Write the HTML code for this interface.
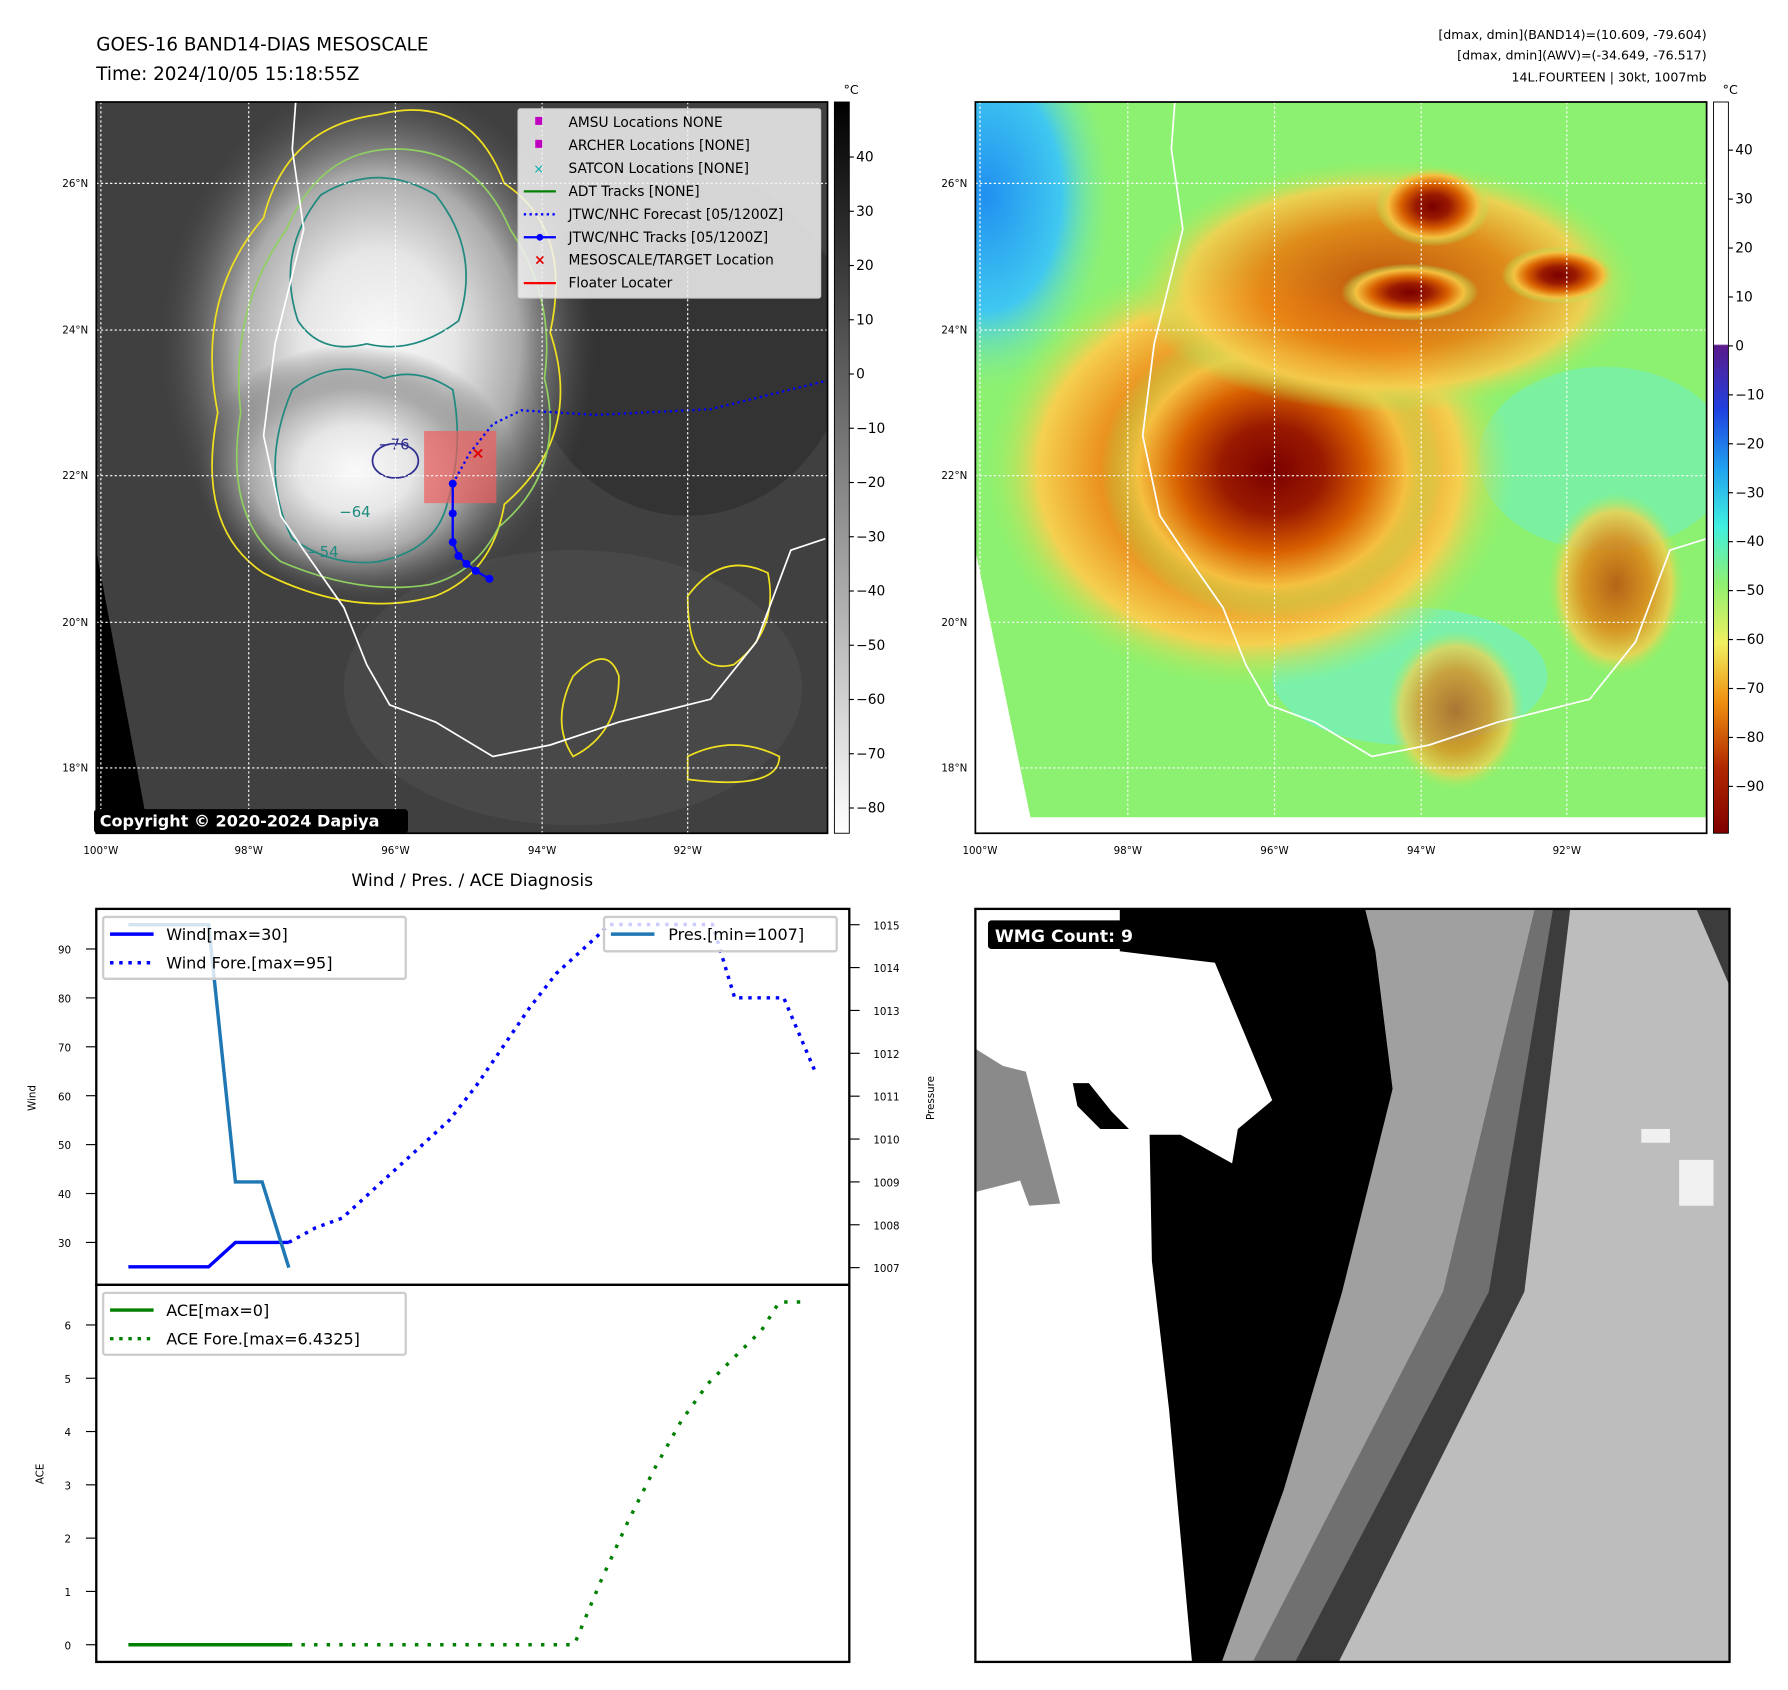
<!DOCTYPE html>
<html><head><meta charset="utf-8"><style>
html,body{margin:0;padding:0;background:#fff}
svg{display:block;font-family:"DejaVu Sans","Liberation Sans",sans-serif}
</style></head><body>
<svg id="fig" width="1788" height="1690" viewBox="0 0 1560 1474.5" xmlns="http://www.w3.org/2000/svg">
<defs>
<radialGradient id="cloudL" cx="0.5" cy="0.5" r="0.5">
<stop offset="0" stop-color="#fafafa"/><stop offset="0.35" stop-color="#e6e6e6"/><stop offset="0.65" stop-color="#aaaaaa"/><stop offset="1" stop-color="#555" stop-opacity="0"/></radialGradient>
<radialGradient id="cloudR" cx="0.5" cy="0.5" r="0.5">
<stop offset="0" stop-color="#7a0000"/><stop offset="0.3" stop-color="#9a1a00"/><stop offset="0.55" stop-color="#d86000"/><stop offset="0.78" stop-color="#f5c040"/><stop offset="1" stop-color="#a0f060" stop-opacity="0"/></radialGradient>
<radialGradient id="cloudO" cx="0.5" cy="0.5" r="0.5">
<stop offset="0" stop-color="#c04000"/><stop offset="0.5" stop-color="#e88010"/><stop offset="0.8" stop-color="#f5d050"/><stop offset="1" stop-color="#a0f060" stop-opacity="0"/></radialGradient>
<radialGradient id="blueR" cx="0.5" cy="0.5" r="0.5">
<stop offset="0" stop-color="#2090f0"/><stop offset="0.6" stop-color="#40c8f0"/><stop offset="1" stop-color="#80f0a0" stop-opacity="0"/></radialGradient>
<linearGradient id="cbGray" x1="0" y1="0" x2="0" y2="1"><stop offset="0" stop-color="#000"/><stop offset="1" stop-color="#fff"/></linearGradient>
<linearGradient id="cbJet" x1="0" y1="0" x2="0" y2="1">
<stop offset="0" stop-color="#fff"/><stop offset="0.331" stop-color="#fff"/><stop offset="0.333" stop-color="#5a1a8a"/><stop offset="0.42" stop-color="#2040e0"/><stop offset="0.5" stop-color="#20a0f0"/><stop offset="0.58" stop-color="#40f0e0"/><stop offset="0.66" stop-color="#90f070"/><stop offset="0.74" stop-color="#f0f060"/><stop offset="0.82" stop-color="#f09010"/><stop offset="0.91" stop-color="#b02800"/><stop offset="1" stop-color="#800000"/></linearGradient>
<clipPath id="clipL"><rect x="84" y="89" width="638" height="638"/></clipPath>
<clipPath id="clipR"><rect x="851" y="89" width="638" height="638"/></clipPath>
</defs>

<text x="84" y="44" font-size="16">GOES-16 BAND14-DIAS MESOSCALE</text>
<text x="84" y="70" font-size="16">Time: 2024/10/05 15:18:55Z</text>
<g font-size="11" text-anchor="end">
<text x="1489" y="34">[dmax, dmin](BAND14)=(10.609, -79.604)</text>
<text x="1489" y="52">[dmax, dmin](AWV)=(-34.649, -76.517)</text>
<text x="1489" y="71">14L.FOURTEEN | 30kt, 1007mb</text>
</g>

<!-- LEFT MAP -->
<g clip-path="url(#clipL)">
<rect x="84" y="89" width="638" height="638" fill="#404040"/>
<ellipse cx="500" cy="600" rx="200" ry="120" fill="#555" opacity="0.4"/>
<ellipse cx="600" cy="300" rx="140" ry="150" fill="#2c2c2c" opacity="0.6"/>
<ellipse cx="330" cy="300" rx="190" ry="230" fill="url(#cloudL)"/>
<ellipse cx="310" cy="410" rx="140" ry="110" fill="url(#cloudL)"/>
<polygon points="84,480 130,727 84,727" fill="#000"/>
<g fill="none" stroke-width="1.5">
<path d="M230,500 q-60,-40 -40,-140 q-20,-100 40,-170 q20,-80 100,-90 q80,-20 110,60 q60,40 40,130 q30,90 -40,150 q-10,60 -60,80 q-70,20 -150,-20z" stroke="#f0e020"/>
<path d="M245,490 q-50,-40 -35,-130 q-10,-90 40,-160 q30,-70 95,-70 q70,0 100,70 q40,60 30,130 q20,80 -40,130 q-20,40 -60,50 q-60,10 -130,-20z" stroke="#90d060"/>
<path d="M255,470 q-30,-60 0,-130 q40,-30 80,-10 q30,-10 60,10 q10,50 -5,100 q-10,40 -60,50 q-40,5 -75,-20z" stroke="#208a80"/>
<path d="M260,280 q-20,-60 20,-110 q50,-30 100,0 q40,50 20,110 q-40,30 -80,20 q-40,10 -60,-20z" stroke="#208a80"/>
<ellipse cx="345" cy="402" rx="20" ry="15" stroke="#303090"/>
<path d="M600,520 q30,-40 70,-20 q10,50 -30,80 q-40,10 -40,-60z" stroke="#f0e020"/>
<path d="M500,590 q30,-30 40,0 q0,50 -40,70 q-20,-30 0,-70z" stroke="#f0e020"/>
<path d="M600,660 q40,-20 80,0 q0,30 -80,20z" stroke="#f0e020"/>
</g>
<text x="330" y="392" font-size="13" fill="#303090">−76</text>
<text x="296" y="451" font-size="13" fill="#208a80">−64</text>
<text x="268" y="486" font-size="13" fill="#208a80">−54</text>
<path d="M258,89 L255,130 265,200 240,300 230,380 245,450 265,480 300,530 320,580 340,615 380,630 430,660 480,650 540,630 580,620 620,610 660,560 690,480 720,470" fill="none" stroke="#fff" stroke-width="1.5"/>
<rect x="370" y="376" width="63" height="63" fill="#f06060" opacity="0.7"/>
<path d="M395,422 L410,395 430,370 455,358 520,362 620,357 722,332" fill="none" stroke="#0000ff" stroke-width="2" stroke-dasharray="2,3"/>
<polyline points="427,505 415,498 407,492 400,485 395,473 395,448 395,422" fill="none" stroke="#0000ff" stroke-width="2"/>
<g fill="#0000ff"><circle cx="427" cy="505" r="3.5"/><circle cx="415" cy="498" r="3.5"/><circle cx="407" cy="492" r="3.5"/><circle cx="400" cy="485" r="3.5"/><circle cx="395" cy="473" r="3.5"/><circle cx="395" cy="448" r="3.5"/><circle cx="395" cy="422" r="3.5"/></g>
<text x="417" y="400" font-size="14" fill="#e00000" text-anchor="middle" font-weight="bold">×</text>
<g stroke="#fff" stroke-dasharray="2,2" stroke-width="1">
<line x1="88" y1="89" x2="88" y2="727"/><line x1="217" y1="89" x2="217" y2="727"/><line x1="345" y1="89" x2="345" y2="727"/><line x1="473" y1="89" x2="473" y2="727"/><line x1="600" y1="89" x2="600" y2="727"/>
<line x1="84" y1="160" x2="722" y2="160"/><line x1="84" y1="288" x2="722" y2="288"/><line x1="84" y1="415" x2="722" y2="415"/><line x1="84" y1="543" x2="722" y2="543"/><line x1="84" y1="670" x2="722" y2="670"/>
</g>
</g>
<rect x="84" y="89" width="638" height="638" fill="none" stroke="#000" stroke-width="1.5"/>
<g font-size="12">
<rect x="452" y="95" width="264" height="165" fill="#f2f2f2" fill-opacity="0.85" stroke="#ccc" rx="2"/>
<rect x="467" y="102" width="6" height="7" fill="#c000c0"/><text x="496" y="111">AMSU Locations NONE</text>
<rect x="467" y="122" width="6" height="7" fill="#c000c0"/><text x="496" y="131">ARCHER Locations [NONE]</text>
<text x="470" y="151" fill="#00b0b0" text-anchor="middle" font-size="11">×</text><text x="496" y="151">SATCON Locations [NONE]</text>
<line x1="457" y1="167" x2="485" y2="167" stroke="#008000" stroke-width="2"/><text x="496" y="171">ADT Tracks [NONE]</text>
<line x1="457" y1="187" x2="485" y2="187" stroke="#0000ff" stroke-width="2" stroke-dasharray="2,3"/><text x="496" y="191">JTWC/NHC Forecast [05/1200Z]</text>
<line x1="457" y1="207" x2="485" y2="207" stroke="#0000ff" stroke-width="2"/><circle cx="471" cy="207" r="3" fill="#0000ff"/><text x="496" y="211">JTWC/NHC Tracks [05/1200Z]</text>
<text x="471" y="231" fill="#e00000" text-anchor="middle" font-weight="bold">×</text><text x="496" y="231">MESOSCALE/TARGET Location</text>
<line x1="457" y1="247" x2="485" y2="247" stroke="#ff0000" stroke-width="2"/><text x="496" y="251">Floater Locater</text>
</g>
<g>
<rect x="82" y="706" width="274" height="21" rx="3" fill="#000"/>
<text x="87" y="721" fill="#fff" font-size="14" font-weight="bold">Copyright © 2020-2024 Dapiya</text>
</g>
<g font-size="9" fill="#000">
<text x="77" y="163" text-anchor="end">26°N</text><text x="77" y="291" text-anchor="end">24°N</text><text x="77" y="418" text-anchor="end">22°N</text><text x="77" y="546" text-anchor="end">20°N</text><text x="77" y="673" text-anchor="end">18°N</text>
<text x="88" y="745" text-anchor="middle">100°W</text><text x="217" y="745" text-anchor="middle">98°W</text><text x="345" y="745" text-anchor="middle">96°W</text><text x="473" y="745" text-anchor="middle">94°W</text><text x="600" y="745" text-anchor="middle">92°W</text>
</g>
<g font-size="12">
<rect x="728" y="89" width="13" height="638" fill="url(#cbGray)" stroke="#000" stroke-width="0.8"/>
<text x="736" y="82" font-size="11">°C</text>
<g id="cbLticks"></g>
</g>

<!-- RIGHT MAP -->
<g clip-path="url(#clipR)">
<rect x="851" y="89" width="638" height="638" fill="#8cf070"/>
<ellipse cx="860" cy="170" rx="110" ry="170" fill="url(#blueR)"/>
<ellipse cx="1400" cy="400" rx="110" ry="80" fill="#70f0c0" opacity="0.6"/>
<ellipse cx="1230" cy="590" rx="120" ry="60" fill="#70f0d0" opacity="0.6"/>
<ellipse cx="1090" cy="410" rx="230" ry="190" fill="url(#cloudO)"/>
<ellipse cx="1110" cy="410" rx="150" ry="130" fill="url(#cloudR)"/>
<ellipse cx="1210" cy="250" rx="220" ry="110" fill="url(#cloudO)" opacity="0.9"/>
<ellipse cx="1250" cy="180" rx="50" ry="35" fill="url(#cloudR)"/>
<ellipse cx="1230" cy="255" rx="60" ry="25" fill="url(#cloudR)"/>
<ellipse cx="1360" cy="240" rx="50" ry="25" fill="url(#cloudR)"/>
<ellipse cx="1410" cy="510" rx="60" ry="80" fill="url(#cloudO)" opacity="0.8"/>
<ellipse cx="1270" cy="620" rx="60" ry="70" fill="url(#cloudO)" opacity="0.7"/>
<polygon points="851,480 899,713 1489,713 1489,727 851,727" fill="#fff"/>
<path d="M1025,89 L1022,130 1032,200 1007,300 997,380 1012,450 1032,480 1067,530 1087,580 1107,615 1147,630 1197,660 1247,650 1307,630 1347,620 1387,610 1427,560 1457,480 1489,470" fill="none" stroke="#fff" stroke-width="1.5"/>
<g stroke="#fff" stroke-dasharray="2,2" stroke-width="1">
<line x1="855" y1="89" x2="855" y2="727"/><line x1="984" y1="89" x2="984" y2="727"/><line x1="1112" y1="89" x2="1112" y2="727"/><line x1="1240" y1="89" x2="1240" y2="727"/><line x1="1367" y1="89" x2="1367" y2="727"/>
<line x1="851" y1="160" x2="1489" y2="160"/><line x1="851" y1="288" x2="1489" y2="288"/><line x1="851" y1="415" x2="1489" y2="415"/><line x1="851" y1="543" x2="1489" y2="543"/><line x1="851" y1="670" x2="1489" y2="670"/>
</g>
</g>
<rect x="851" y="89" width="638" height="638" fill="none" stroke="#000" stroke-width="1.5"/>
<g font-size="9">
<text x="844" y="163" text-anchor="end">26°N</text><text x="844" y="291" text-anchor="end">24°N</text><text x="844" y="418" text-anchor="end">22°N</text><text x="844" y="546" text-anchor="end">20°N</text><text x="844" y="673" text-anchor="end">18°N</text>
<text x="855" y="745" text-anchor="middle">100°W</text><text x="984" y="745" text-anchor="middle">98°W</text><text x="1112" y="745" text-anchor="middle">96°W</text><text x="1240" y="745" text-anchor="middle">94°W</text><text x="1367" y="745" text-anchor="middle">92°W</text>
</g>
<g font-size="12">
<rect x="1495" y="89" width="13" height="638" fill="url(#cbJet)" stroke="#000" stroke-width="0.8"/>
<text x="1503" y="82" font-size="11">°C</text>
<g id="cbRticks"></g>
</g>

<!-- CHARTS -->
<text x="412" y="773" font-size="15" text-anchor="middle">Wind / Pres. / ACE Diagnosis</text>
<g id="windChart"></g>
<g id="aceChart"></g>

<!-- WMG -->
<g>
<rect x="851" y="793" width="658" height="657" fill="#bdbdbd"/>
<polygon points="1370,793 1330,1127 1168,1450 851,1450 851,793" fill="#3c3c3c"/>
<polygon points="1355,793 1299,1127 1130,1450 851,1450 851,793" fill="#707070"/>
<polygon points="1339,793 1259,1127 1093,1450 851,1450 851,793" fill="#a0a0a0"/>
<polygon points="1191,793 1200,830 1215,950 1171,1127 1120,1300 1066,1450 851,1450 851,793" fill="#000"/>
<polygon points="851,793 977,793 977,830 1060,840 1085,900 1110,960 1080,985 1075,1015 1030,990 1003,990 1005,1100 1020,1230 1030,1340 1040,1450 851,1450" fill="#fff"/>
<polygon points="851,915 875,930 895,935 925,1050 898,1052 890,1030 851,1040" fill="#8a8a8a"/>
<polygon points="936,945 950,945 970,970 985,985 960,985 940,965" fill="#000"/>
<polygon points="1480,793 1509,793 1509,860" fill="#3c3c3c"/>
<rect x="1432" y="985" width="25" height="12" fill="#f0f0f0"/>
<rect x="1465" y="1012" width="30" height="40" fill="#f0f0f0"/>
<rect x="862" y="803" width="158" height="25" rx="3" fill="#000"/>
<text x="868" y="822" fill="#fff" font-size="15" font-weight="bold">WMG Count: 9</text>
<rect x="851" y="793" width="658" height="657" fill="none" stroke="#000" stroke-width="2"/>
</g>
</svg>
<script>
// ---- chart data ----
const obsHours = [0, 6, 12, 18, 24, 30, 36];
const obsWind = [25, 25, 25, 25, 30, 30, 30];
const obsPres = [1015, 1015, 1015, 1015, 1009, 1009, 1007];
const obsAce = [0, 0, 0, 0, 0, 0, 0];
const foreHours = [36, 42, 48, 54, 60, 66, 72, 78, 84, 90, 96, 102, 108, 114, 120, 126, 131, 136, 147, 154];
const foreWind = [30, 33, 35, 40, 45, 50, 55, 62, 70, 78, 85, 90, 95, 95, 95, 95, 95, 80, 80, 65];
const aceHours = [36, 48, 60, 72, 84, 96, 100, 106, 112, 118, 124, 130, 136, 142, 146, 152];
const foreAce = [0, 0, 0, 0, 0, 0, 0, 1.2, 2.3, 3.3, 4.2, 4.9, 5.4, 5.9, 6.43, 6.43];
const windTicks = [30, 40, 50, 60, 70, 80, 90];
const presTicks = [1007, 1008, 1009, 1010, 1011, 1012, 1013, 1014, 1015];
const aceTicks = [0, 1, 2, 3, 4, 5, 6];
const grayTicks = [40, 30, 20, 10, 0, -10, -20, -30, -40, -50, -60, -70, -80];
const jetTicks = [40, 30, 20, 10, 0, -10, -20, -30, -40, -50, -60, -70, -80, -90];

const NS = 'http://www.w3.org/2000/svg';
function mk(parent, tag, attrs, txt){const e=document.createElementNS(NS,tag);for(const k in attrs)e.setAttribute(k,attrs[k]);if(txt!==undefined)e.textContent=txt;parent.appendChild(e);return e;}
const xS = h => 112 + h * 3.89;
const yWind = v => 1084 - (v - 30) * 4.267;
const yPres = v => 1106 - (v - 1007) * 37.4;
const yAce = v => 1435 - v * 46.5;
const yGray = v => 137 - (v - 40) * 4.733;
const yJet = v => 131 - (v - 40) * 4.27;
function pts(xs, ys, fy){return xs.map((h,i)=>xS(h).toFixed(1)+','+fy(ys[i]).toFixed(1)).join(' ');}

// colorbars
const cbL=document.getElementById('cbLticks');
grayTicks.forEach(v=>{
  const l=mk(cbL,'line',{x1:741,x2:745,y1:yGray(v),y2:yGray(v),stroke:'#000'});
  
  
  mk(cbL,'text',{x:747,y:yGray(v)+4},String(v).replace('-','−'));
});
const cbR=document.getElementById('cbRticks');
jetTicks.forEach(v=>{
  mk(cbR,'line',{x1:1508,x2:1512,y1:yJet(v),y2:yJet(v),stroke:'#000'});
  const t=mk(cbR,'text',{x:1514,y:yJet(v)+4},String(v).replace('-','−'));
  
  
});

// wind chart
const W=document.getElementById('windChart');
mk(W,'rect',{x:84,y:793,width:657,height:328,fill:'none',stroke:'#000','stroke-width':2});
windTicks.forEach(v=>{mk(W,'line',{x1:75,x2:84,y1:yWind(v),y2:yWind(v),stroke:'#000'});mk(W,'text',{x:62,y:yWind(v)+4,'font-size':9,'text-anchor':'end'},v);});
presTicks.forEach(v=>{mk(W,'line',{x1:741,x2:750,y1:yPres(v),y2:yPres(v),stroke:'#000'});mk(W,'text',{x:762,y:yPres(v)+4,'font-size':9},v);});
mk(W,'text',{x:31,y:958,'font-size':9,'text-anchor':'middle',transform:'rotate(-90 31 958)'},'Wind');
mk(W,'text',{x:815,y:958,'font-size':9,'text-anchor':'middle',transform:'rotate(-90 815 958)'},'Pressure');
const wl=mk(W,'polyline',{points:pts(obsHours,obsWind,yWind),fill:'none',stroke:'#0000ff','stroke-width':3});


const wf=mk(W,'polyline',{points:pts(foreHours,foreWind,yWind),fill:'none',stroke:'#0000ff','stroke-width':3,'stroke-dasharray':'3,5'});


const pl=mk(W,'polyline',{points:pts(obsHours,obsPres,yPres),fill:'none',stroke:'#1f77b4','stroke-width':3});


const lg1=mk(W,'g',{'font-size':14});


mk(lg1,'rect',{x:90,y:800,width:264,height:54,fill:'#fff','fill-opacity':0.8,stroke:'#ccc','stroke-width':2,rx:2});
mk(lg1,'line',{x1:96,x2:134,y1:815,y2:815,stroke:'#0000ff','stroke-width':3});
mk(lg1,'text',{x:145,y:820},'Wind[max=30]');
mk(lg1,'line',{x1:96,x2:134,y1:840,y2:840,stroke:'#0000ff','stroke-width':3,'stroke-dasharray':'3,5'});
mk(lg1,'text',{x:145,y:845},'Wind Fore.[max=95]');
const lg2=mk(W,'g',{'font-size':14});


mk(lg2,'rect',{x:527,y:800,width:203,height:30,fill:'#fff','fill-opacity':0.8,stroke:'#ccc','stroke-width':2,rx:2});
mk(lg2,'line',{x1:533,x2:571,y1:815,y2:815,stroke:'#1f77b4','stroke-width':3});
mk(lg2,'text',{x:583,y:820},'Pres.[min=1007]');

// ace chart
const A=document.getElementById('aceChart');
mk(A,'rect',{x:84,y:1121,width:657,height:329,fill:'none',stroke:'#000','stroke-width':2});
aceTicks.forEach(v=>{mk(A,'line',{x1:75,x2:84,y1:yAce(v),y2:yAce(v),stroke:'#000'});mk(A,'text',{x:62,y:yAce(v)+4,'font-size':9,'text-anchor':'end'},v);});
mk(A,'text',{x:38,y:1286,'font-size':9,'text-anchor':'middle',transform:'rotate(-90 38 1286)'},'ACE');
const al=mk(A,'polyline',{points:pts(obsHours,obsAce,yAce),fill:'none',stroke:'#008000','stroke-width':3});


const af=mk(A,'polyline',{points:pts(aceHours,foreAce,yAce),fill:'none',stroke:'#008000','stroke-width':3,'stroke-dasharray':'3,8'});


const lg3=mk(A,'g',{'font-size':14});


mk(lg3,'rect',{x:90,y:1128,width:264,height:54,fill:'#fff','fill-opacity':0.8,stroke:'#ccc','stroke-width':2,rx:2});
mk(lg3,'line',{x1:96,x2:134,y1:1143,y2:1143,stroke:'#008000','stroke-width':3});
mk(lg3,'text',{x:145,y:1148},'ACE[max=0]');
mk(lg3,'line',{x1:96,x2:134,y1:1168,y2:1168,stroke:'#008000','stroke-width':3,'stroke-dasharray':'3,5'});
mk(lg3,'text',{x:145,y:1173},'ACE Fore.[max=6.4325]');
</script>
</body></html>
